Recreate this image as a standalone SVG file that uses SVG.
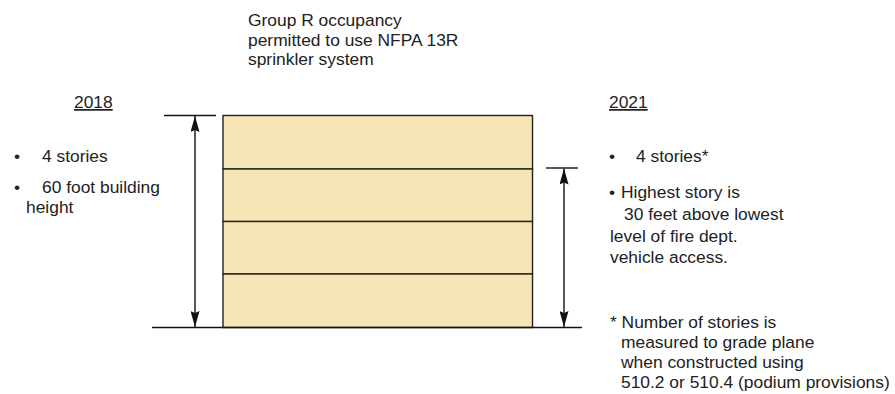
<svg xmlns="http://www.w3.org/2000/svg" width="895" height="394" viewBox="0 0 895 394">
<defs>
<marker id="ah" viewBox="0 0 16 9" refX="16" refY="4.5" markerWidth="16" markerHeight="9" markerUnits="userSpaceOnUse" orient="auto-start-reverse">
<polygon points="0,0 16,4.5 0,9 2,4.5" fill="#111"/>
</marker>
</defs>
<style>
text{font-family:"Liberation Sans",Arial,sans-serif;font-size:17.4px;fill:#222}
.ln{stroke:#111;stroke-width:1.4;fill:none}
.story{fill:#F7E6B5;stroke:#222;stroke-width:1.4}
.ul{text-decoration:underline}
</style>
<rect width="895" height="394" fill="#fff"/>
<g id="title">
<text x="248" y="26">Group R occupancy</text>
<text x="248" y="45.5">permitted to use NFPA 13R</text>
<text x="248" y="65">sprinkler system</text>
</g>
<g id="building">
<rect class="story" x="223" y="115.5" width="309.5" height="53.5"/>
<rect class="story" x="223" y="169" width="309.5" height="52.5"/>
<rect class="story" x="223" y="221.5" width="309.5" height="52.5"/>
<rect class="story" x="223" y="274" width="309.5" height="53.5"/>
</g>
<g id="connectors">
<line class="ln" x1="152" y1="327.5" x2="582" y2="327.5"/>
<line class="ln" x1="164" y1="115.5" x2="216" y2="115.5"/>
<line class="ln" x1="546" y1="168" x2="578" y2="168"/>
<line class="ln" x1="195" y1="116" x2="195" y2="327" marker-start="url(#ah)" marker-end="url(#ah)"/>
<line class="ln" x1="564" y1="168.5" x2="564" y2="327" marker-start="url(#ah)" marker-end="url(#ah)"/>
</g>
<g id="left-2018">
<text x="74" y="108" class="ul">2018</text>
<text x="14" y="162">•</text>
<text x="42" y="162">4 stories</text>
<text x="14" y="193">•</text>
<text x="42" y="193">60 foot building</text>
<text x="26" y="213">height</text>
</g>
<g id="right-2021">
<text x="609" y="108" class="ul">2021</text>
<text x="609" y="162">•</text>
<text x="636" y="162">4 stories*</text>
<text x="609" y="198">•</text>
<text x="621" y="198">Highest story is</text>
<text x="624" y="220">30 feet above lowest</text>
<text x="610" y="241.5">level of fire dept.</text>
<text x="610" y="263">vehicle access.</text>
</g>
<g id="footnote">
<text x="610" y="328">* Number of stories is</text>
<text x="621" y="348">measured to grade plane</text>
<text x="621" y="368">when constructed using</text>
<text x="621" y="388">510.2 or 510.4 (podium provisions)</text>
</g>
</svg>
